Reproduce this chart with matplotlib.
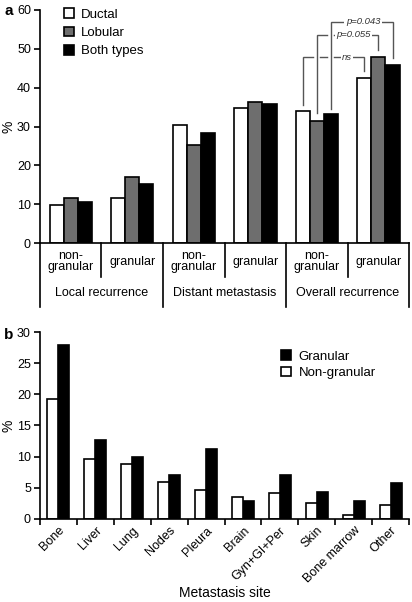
import matplotlib
matplotlib.use("Agg")
import matplotlib.pyplot as plt
import matplotlib.patheffects as pe
import numpy as np

plt.rcParams["font.family"] = ["Liberation Sans", "DejaVu Sans"]

# panel a data
series_a = ["Ductal", "Lobular", "Both types"]
groups_a = ["non-\ngranular", "granular"] * 3
outcomes_a = ["Local recurrence", "Distant metastasis", "Overall recurrence"]
ductal = [9.7, 11.6, 30.4, 34.7, 34.0, 42.5]
lobular = [11.6, 17.1, 25.2, 36.4, 31.4, 48.0]
both = [10.5, 15.3, 28.3, 35.7, 33.1, 45.9]

# panel b data
sites = ["Bone", "Liver", "Lung", "Nodes", "Pleura", "Brain", "Gyn+GI+Per",
         "Skin", "Bone marrow", "Other"]
non_granular = [19.2, 9.7, 8.8, 5.9, 4.7, 3.5, 4.2, 2.6, 0.6, 2.2]
granular = [27.9, 12.6, 9.9, 7.0, 11.3, 2.9, 7.0, 4.4, 2.9, 5.8]

colors_a = ["white", "#6e6e6e", "black"]
lw = 1.2

fig = plt.figure(figsize=(4.12, 6.02), dpi=100)

# ---------- panel a ----------
ax = fig.add_axes([0.097, 0.5963, 0.896, 0.3871])
x = np.arange(6) + 0.5
w = 0.23
for j, (vals, c) in enumerate(zip([ductal, lobular, both], colors_a)):
    ax.bar(x + (j - 1) * w, vals, w, color=c, edgecolor="black", linewidth=lw,
           label=series_a[j])
ax.set_xlim(0, 6)
ax.set_ylim(0, 60)
ax.set_yticks(range(0, 61, 10))
ax.set_xticks([])
for s in ["top", "right"]:
    ax.spines[s].set_visible(False)
for s in ["left", "bottom"]:
    ax.spines[s].set_linewidth(lw)
ax.tick_params(axis="y", direction="out", length=4.5, width=lw, labelsize=9, pad=2)
ax.set_ylabel("%", fontsize=10)
ax.yaxis.set_label_coords(-0.066, 0.5)

# category table below axis
tr = ax.get_xaxis_transform()
for xb in [0, 2, 4, 6]:
    ax.plot([xb, xb], [0, -0.275], color="black", lw=lw, transform=tr, clip_on=False)
for xb in [1, 3, 5]:
    ax.plot([xb, xb], [0, -0.146], color="black", lw=lw, transform=tr, clip_on=False)
for i, g in enumerate(groups_a):
    ax.text(x[i], -0.08, g, transform=tr, ha="center", va="center",
            fontsize=9, linespacing=0.92)
for i, o in enumerate(outcomes_a):
    ax.text(2 * i + 1, -0.215, o, transform=tr, ha="center", va="center", fontsize=9)

# significance brackets
brackets = [
    (x[4] - w, 35.5, x[5] - w, 44.4, 47.8, "ns", 4.99),
    (x[4], 33.6, x[5], 49.7, 53.6, "p=0.055", 5.09),
    (x[4] + w, 34.6, x[5] + w, 47.6, 57.0, "p=0.043", 5.25),
]
for x1, y1, x2, y2, yt, lab, xt in brackets:
    ax.plot([x1, x1, x2, x2], [y1, yt, yt, y2], color="#555555", lw=1.0,
            solid_joinstyle="miter", clip_on=False,
            path_effects=[pe.Stroke(linewidth=4, foreground="white"), pe.Normal()])
    ax.text(xt, yt, lab, ha="center", va="center", fontsize=6.8, style="italic",
            color="#333333",
            bbox=dict(boxstyle="square,pad=0.15", fc="white", ec="none"))

ax.legend(frameon=False, loc="upper left", bbox_to_anchor=(0.05, 1.03),
          fontsize=9.5, handlelength=0.75, handleheight=0.75, handletextpad=0.55,
          labelspacing=0.45, borderaxespad=0)
fig.text(0.01, 0.982, "a", fontsize=11, fontweight="bold", va="center")

# ---------- panel b ----------
bx = fig.add_axes([0.097, 0.1379, 0.896, 0.3106])
xs = np.arange(len(sites))
wb = 0.3
bx.bar(xs + wb / 2, granular, wb, color="black", edgecolor="black", linewidth=lw,
       label="Granular")
bx.bar(xs - wb / 2, non_granular, wb, color="white", edgecolor="black", linewidth=lw,
       label="Non-granular")
bx.set_xlim(-0.5, len(sites) - 0.5)
bx.set_ylim(0, 30)
bx.set_yticks(range(0, 31, 5))
bx.set_xticks(np.arange(len(sites) + 1) - 0.5)
bx.set_xticklabels([])
bx.set_xticks(xs, minor=True)
bx.set_xticklabels(sites, minor=True, rotation=45, ha="right",
                   rotation_mode="anchor", fontsize=9)
bx.tick_params(axis="x", which="minor", length=0, pad=4)
bx.tick_params(axis="x", which="major", direction="out", length=4.5, width=lw)
bx.tick_params(axis="y", direction="out", length=4.5, width=lw, labelsize=9, pad=2)
for s in ["top", "right"]:
    bx.spines[s].set_visible(False)
for s in ["left", "bottom"]:
    bx.spines[s].set_linewidth(lw)
bx.set_ylabel("%", fontsize=10)
bx.yaxis.set_label_coords(-0.066, 0.5)
bx.set_xlabel("Metastasis site", fontsize=10, labelpad=0)
bx.legend(frameon=False, loc="upper left", bbox_to_anchor=(0.64, 0.93),
          fontsize=9.5, handlelength=0.75, handleheight=0.75, handletextpad=0.55,
          labelspacing=0.3, borderaxespad=0)
fig.text(0.01, 0.443, "b", fontsize=11, fontweight="bold", va="center")

fig.savefig("out.png", dpi=100)
